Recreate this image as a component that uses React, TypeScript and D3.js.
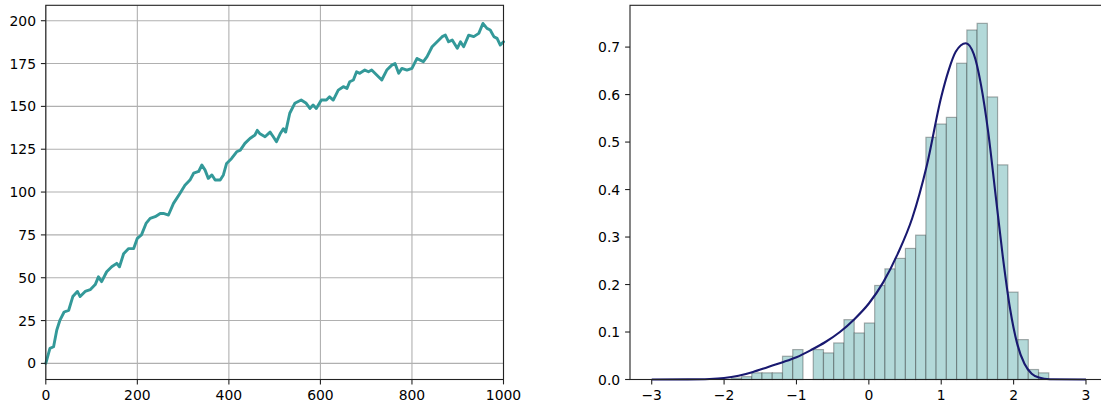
import * as d3 from 'd3'

// ---- random walk (left panel) ----
const walkStep = [
  0, 9, 17, 24, 31, 40, 50, 59, 69, 75, 86, 97, 108, 115, 122, 133, 144, 155, 161, 170,
  181, 192, 200, 209, 219, 228, 239, 250, 257, 268, 279, 293, 304, 315, 323, 334, 341, 348, 355, 363,
  370, 381, 388, 395, 406, 417, 425, 435, 446, 457, 462, 468, 479, 490, 497, 504, 512, 519, 524, 533,
  544, 558, 569, 577, 584, 591, 602, 613, 620, 628, 639, 650, 658, 664, 672, 679, 686, 697, 705, 712,
  723, 734, 745, 756, 763, 771, 778, 789, 800, 811, 818, 825, 833, 844, 855, 866, 873, 880, 888, 899,
  906, 913, 924, 935, 946, 955, 964, 971, 979, 986, 993, 1000,
]
const walkValue = [
  0, 8.8, 9.7, 19.5, 25.3, 30, 31, 39, 42, 39, 42, 43, 46, 50.5, 47.7, 53.5, 56.4, 58.4, 56.4, 64,
  67, 67, 73, 75, 81.7, 84.6, 85.6, 87.5, 87.5, 86.6, 93.4, 99.2, 104, 107, 111, 112, 115.8, 112.8, 108, 110,
  107, 107, 110, 116.7, 119.6, 123.5, 124.5, 128.4, 131.3, 133.3, 136, 134, 132.3, 135, 132.3, 129.4, 134, 137, 135, 146,
  151.8, 153.7, 151.8, 148.8, 150.8, 148.8, 153.7, 153.7, 155.6, 153.7, 159.5, 161.5, 160.5, 164.4, 165.4, 170.2, 169.3, 171.2, 170.2, 171.2,
  168.3, 165.4, 171.2, 174.1, 175, 169.3, 172.2, 171.2, 172.2, 178, 177, 176.1, 179, 184.8, 187.7, 190.7, 191.6, 187.7, 188.7, 183.9,
  187.7, 184.8, 191.6, 190.7, 192.6, 198.4, 195.5, 194.6, 190.7, 189.7, 185.8, 187.7,
]
const walkXTicks = [0, 200, 400, 600, 800, 1000]
const walkYTicks = [0, 25, 50, 75, 100, 125, 150, 175, 200]

// ---- histogram (right panel) ----
const binStart = -1.9005
const binWidth = 0.1415
const binDensity = [
  0.003, 0.006, 0.014, 0.014, 0.014, 0.049, 0.063, 0, 0.063, 0.056,
  0.077, 0.126, 0.098, 0.119, 0.198, 0.233, 0.255, 0.276, 0.304, 0.51,
  0.538, 0.552, 0.666, 0.736, 0.75, 0.595, 0.452, 0.184, 0.084, 0.021,
  0.014,
]
const curveX = [
  -3, -2.5, -2.2, -2.0, -1.8, -1.6, -1.4, -1.2, -1.0, -0.8, -0.6, -0.4, -0.2, 0, 0.2, 0.4, 0.6, 0.8,
  1.0, 1.1, 1.2, 1.34, 1.45, 1.55, 1.65, 1.75, 1.85, 1.95, 2.05, 2.15, 2.25, 2.35, 2.5, 3,
]
const curveY = [
  0, 0.0002, 0.001, 0.003, 0.008, 0.016, 0.026, 0.036, 0.047, 0.062, 0.079, 0.1, 0.127, 0.16, 0.205, 0.265, 0.34, 0.45,
  0.595, 0.65, 0.69, 0.708, 0.685, 0.62, 0.52, 0.39, 0.26, 0.15, 0.075, 0.033, 0.012, 0.004, 0.0005, 0,
]
const histXTicks = [-3, -2, -1, 0, 1, 2, 3]
const histYTicks = [0, 0.1, 0.2, 0.3, 0.4, 0.5, 0.6, 0.7]

const W = 1101
const H = 404
const TOP = 5.3
const BOTTOM = 379.5
const TICK = 4.9
const FONT = 13.9
const font = { fontFamily: '"DejaVu Sans", sans-serif', fontSize: FONT, fill: '#000' }
const minus = (s: string) => s.replace('-', '\u2212')

export default function App() {
  // left panel
  const lx = d3.scaleLinear().domain([0, 1000]).range([45.8, 503.5])
  const ly = d3.scaleLinear().domain([-9.4, 209]).range([BOTTOM, TOP])
  const walkLine = d3.line<number>()
    .x((_, i) => lx(walkStep[i]))
    .y((d) => ly(d))
  // right panel
  const rx = d3.scaleLinear().domain([-3.3, 3.3]).range([630, 1107.7])
  const ry = d3.scaleLinear().domain([0, 0.788]).range([BOTTOM, TOP])
  const pdfLine = d3.line<number>()
    .x((_, i) => rx(curveX[i]))
    .y((d) => ry(d))
    .curve(d3.curveMonotoneX)

  const [lx0, lx1] = lx.range()
  const [rx0, rx1] = rx.range()

  return (
    <svg width={W} height={H} style={{ position: 'absolute', left: 0, top: 0, background: '#fff' }}>
      {/* ---------- left: random walk ---------- */}
      <g>
        {walkXTicks.map((t) => (
          <line key={'gx' + t} x1={lx(t)} x2={lx(t)} y1={TOP} y2={BOTTOM} stroke="#b0b0b0" strokeWidth={1.1} />
        ))}
        {walkYTicks.map((t) => (
          <line key={'gy' + t} x1={lx0} x2={lx1} y1={ly(t)} y2={ly(t)} stroke="#b0b0b0" strokeWidth={1.1} />
        ))}
        <path d={walkLine(walkValue) ?? ''} fill="none" stroke="#339999" strokeWidth={2.9}
          strokeLinejoin="round" strokeLinecap="round" />
        <rect x={lx0} y={TOP} width={lx1 - lx0} height={BOTTOM - TOP} fill="none" stroke="#222" strokeWidth={1.1} />
        {walkXTicks.map((t) => (
          <g key={'tx' + t}>
            <line x1={lx(t)} x2={lx(t)} y1={BOTTOM} y2={BOTTOM + TICK} stroke="#222" strokeWidth={1.1} />
            <text x={lx(t)} y={BOTTOM + 20} textAnchor="middle" style={font}>{t}</text>
          </g>
        ))}
        {walkYTicks.map((t) => (
          <g key={'ty' + t}>
            <line x1={lx0 - TICK} x2={lx0} y1={ly(t)} y2={ly(t)} stroke="#222" strokeWidth={1.1} />
            <text x={lx0 - TICK - 4.9} y={ly(t)} dy="0.36em" textAnchor="end" style={font}>{t}</text>
          </g>
        ))}
      </g>

      {/* ---------- right: histogram + density ---------- */}
      <g>
        {binDensity.map((d, i) => {
          const x0 = binStart + i * binWidth
          if (d <= 0) return null
          return (
            <rect key={'b' + i} x={rx(x0)} y={ry(d)} width={rx(x0 + binWidth) - rx(x0)} height={ry(0) - ry(d)}
              fill="#b3d9d9" stroke="rgba(0,0,0,0.3)" strokeWidth={1.2} />
          )
        })}
        <path d={pdfLine(curveY) ?? ''} fill="none" stroke="#191970" strokeWidth={2.1} />
        <rect x={rx0} y={TOP} width={rx1 - rx0} height={BOTTOM - TOP} fill="none" stroke="#222" strokeWidth={1.1} />
        {histXTicks.map((t) => (
          <g key={'hx' + t}>
            <line x1={rx(t)} x2={rx(t)} y1={BOTTOM} y2={BOTTOM + TICK} stroke="#222" strokeWidth={1.1} />
            <text x={rx(t)} y={BOTTOM + 20} textAnchor="middle" style={font}>{minus(String(t))}</text>
          </g>
        ))}
        {histYTicks.map((t) => (
          <g key={'hy' + t}>
            <line x1={rx0 - TICK} x2={rx0} y1={ry(t)} y2={ry(t)} stroke="#222" strokeWidth={1.1} />
            <text x={rx0 - TICK - 4.9} y={ry(t)} dy="0.36em" textAnchor="end" style={font}>{t.toFixed(1)}</text>
          </g>
        ))}
      </g>
    </svg>
  )
}
